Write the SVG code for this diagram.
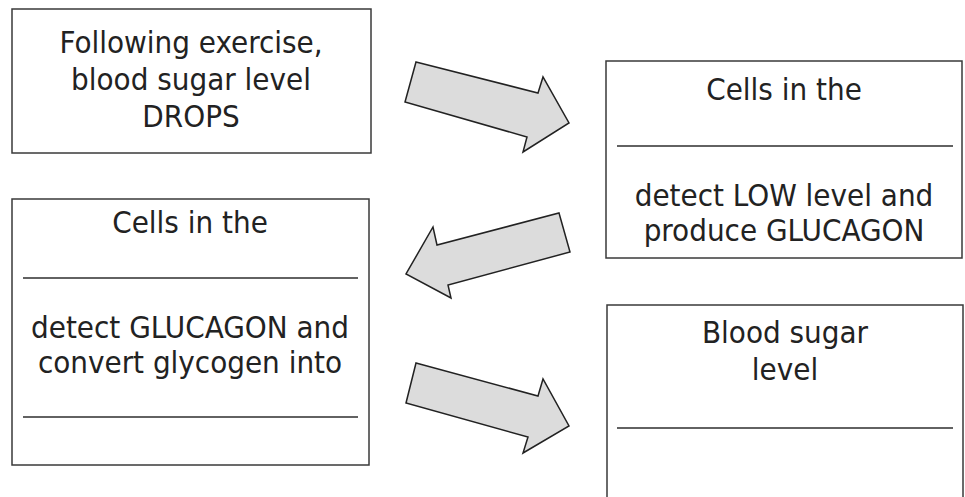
<svg xmlns="http://www.w3.org/2000/svg" width="965" height="497" viewBox="0 0 965 497">
  <style>
    .box { fill: #ffffff; stroke: #3a3a3a; stroke-width: 1.5; }
    .rule { stroke: #2e2e2e; stroke-width: 1.5; }
    .label { font-family: 'DejaVu Sans Condensed', 'DejaVu Sans', sans-serif; font-stretch: condensed; font-size: 31px; fill: #222222; text-anchor: middle; }
    .arrow { fill: #dcdcdc; stroke: #222222; stroke-width: 1.5; stroke-linejoin: miter; }
  </style>
  <rect width="965" height="497" fill="#ffffff"/>

  <!-- Step 1: exercise -->
  <g id="node-exercise">
    <rect class="box" x="12" y="9" width="359" height="144"/>
    <text class="label" x="191" y="53">Following exercise,</text>
    <text class="label" x="191" y="90">blood sugar level</text>
    <text class="label" x="191" y="127">DROPS</text>
  </g>

  <!-- Step 2: detecting cells -->
  <g id="node-detect">
    <rect class="box" x="606" y="61" width="356" height="197"/>
    <text class="label" x="784" y="100">Cells in the</text>
    <line class="rule" x1="617" y1="146" x2="953" y2="146"/>
    <text class="label" x="784" y="206">detect LOW level and</text>
    <text class="label" x="784" y="241">produce GLUCAGON</text>
  </g>

  <!-- Step 3: responding cells -->
  <g id="node-convert">
    <rect class="box" x="12" y="199" width="357" height="266"/>
    <text class="label" x="190" y="233">Cells in the</text>
    <line class="rule" x1="23" y1="278" x2="358" y2="278"/>
    <text class="label" x="190" y="338">detect GLUCAGON and</text>
    <text class="label" x="190" y="373">convert glycogen into</text>
    <line class="rule" x1="23" y1="417" x2="358" y2="417"/>
  </g>

  <!-- Step 4: outcome -->
  <g id="node-result">
    <rect class="box" x="607" y="305" width="356" height="200"/>
    <text class="label" x="785" y="343">Blood sugar</text>
    <text class="label" x="785" y="380">level</text>
    <line class="rule" x1="617" y1="428" x2="953" y2="428"/>
  </g>

  <!-- Block arrows between the steps -->
  <g id="connectors">
    <polygon class="arrow" points="416,62 538,93 543,77 569,123 523,152 527,137 405,102"/>
    <polygon class="arrow" points="559,213 570,252 448,285 451,298 406,274 433,227 437,245"/>
    <polygon class="arrow" points="416,363 538,396 543,379 569,426 523,453 528,437 406,403"/>
  </g>
</svg>
